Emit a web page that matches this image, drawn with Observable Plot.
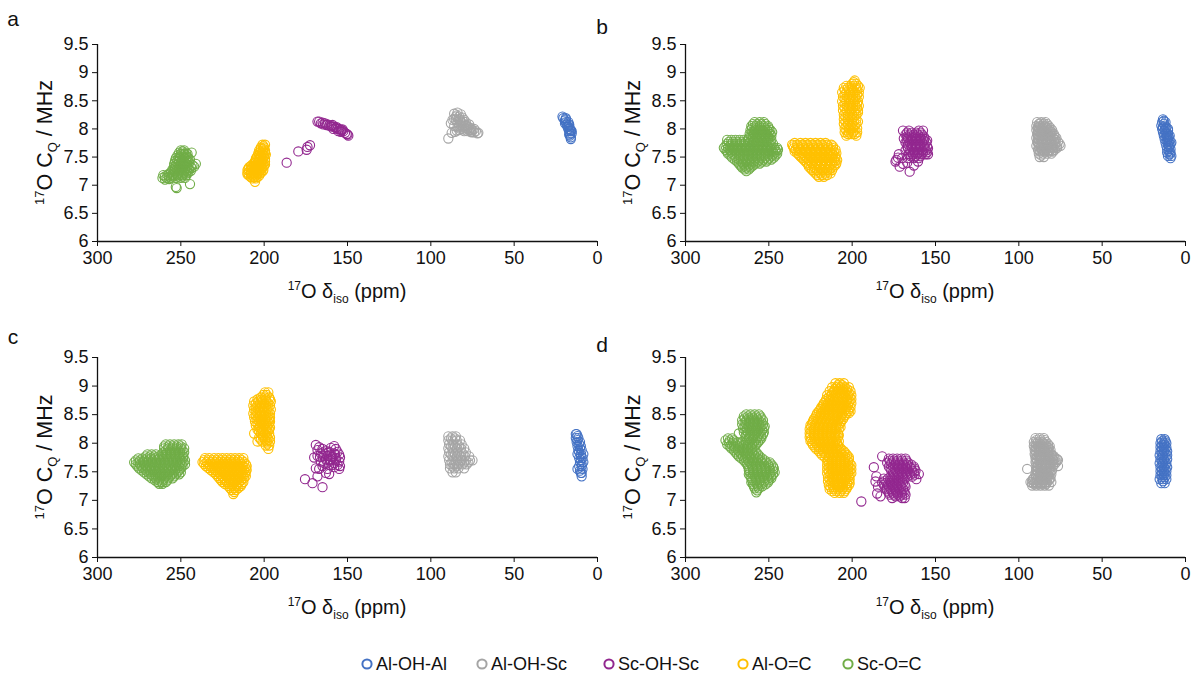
<!DOCTYPE html>
<html>
<head>
<meta charset="utf-8">
<script src="https://cdn.jsdelivr.net/npm/d3@7"></script>
<script src="https://cdn.jsdelivr.net/npm/@observablehq/plot@0.6"></script>
<style>
  html, body { margin: 0; padding: 0; background: #fff; }
  body { width: 1193px; height: 674px; position: relative; overflow: hidden; font-family: "Liberation Sans", Arial, sans-serif; }
  .panel { position: absolute; }
  .panel svg { overflow: visible; background: transparent; }
  #legend { position: absolute; top: 652px; left: 0; width: 1193px; height: 24px; }
  .li { position: absolute; top: 0; height: 24px; display: flex; align-items: center; font-size: 18px; color: #111; white-space: nowrap; }
  .li svg { margin-right: 3px; }
</style>
</head>
<body>
<div id="root"></div>
<div id="legend"></div>
<script>
// ---------------- shared definitions ----------------
const series = ["Al-OH-Al", "Al-OH-Sc", "Sc-OH-Sc", "Al-O=C", "Sc-O=C"];
const colors = ["#4472C4", "#A5A5A5", "#92278F", "#FFC000", "#70AD47"];
const xTicks = [300, 250, 200, 150, 100, 50, 0];
const yTicks = [6, 6.5, 7, 7.5, 8, 8.5, 9, 9.5];
const panelLabels = ["a", "b", "c", "d"];

// Data rows: [CQ (MHz), δiso (ppm) of each point read at that CQ, ...]
// ---------------- panel a ----------------
const aAlOHAl = [[8.22,21],[8.19,20.5,19],[8.15,19.5],[8.12,19,17.5],[8.08,18.5,17],[8.04,18,17.5],[8.0,17.5,16.5],[7.96,17,16,15.5],[7.92,16.5,15.5],[7.88,16.5],[7.85,16],[7.82,16],
  [8.17,19],[8.1,19.5],[8.06,17],[7.98,16],[7.9,17]];
const aAlOHSc = [[8.29,84],[8.27,86],[8.26,82],[8.22,85,83],[8.2,81],[8.16,87,85,82.5,80],[8.12,84,79],[8.1,81,88],[8.08,77],[8.05,86,83,80,78],[8.02,79,76],[8.0,82,78,74],[7.98,83,77,75],[7.96,80,73],[7.95,76,85.5],[7.94,74],[7.93,87.5,71.5],[7.92,72],[7.97,84.5],[7.83,89.5],
  [8.24,84.5],[8.18,83.5,86],[8.13,82,80.5],[8.07,82,79],[8.03,81,77.5,84],[7.99,80,76],[7.96,78],[7.94,75.5]];
const aScOHSc = [[8.13,168,167],[8.1,166,163.5],[8.08,164.5,162],[8.06,161,160],[8.04,159.5,158],[8.02,157],[8.0,156,155,158.5],[7.98,154,153.5],[7.96,152.5,155.5],[7.93,151.5],[7.9,150],[7.88,149.5],[7.71,172.5],[7.68,174],[7.63,174.5],[7.6,179.5],[7.4,186.5],
  [8.11,165],[8.07,162.5,159],[8.03,156.5],[7.99,153],[7.95,154],[7.91,150.5]];
const aAlOC = [[7.72,201,199.5],[7.67,202,200],[7.62,203,201,199.5],[7.57,203.5,201.5,199.5],[7.52,204,202,200],[7.47,205,203,201,199.5],[7.42,205.5,203.5,201.5,199.5],[7.37,207,205,203,201,199.5],[7.32,209,207,205,203,201],[7.27,210,208,206,204,202,200.5],[7.22,210,208,206,204,202],[7.17,209,207,205,203],[7.12,207,205],[7.06,205.5],
  [7.695,200.5],[7.645,202,200.5],[7.595,202.5,200.5],[7.545,203,201,199],[7.495,204.5,202.5,200.5],[7.445,205,203,201],[7.395,206,204,202,200.5],[7.345,208,206,204,202,200],[7.295,209.5,207.5,205.5,203.5,201.5],[7.245,209,207,205,203,201],[7.195,210,208,206,204],[7.145,208,206,204]];
const aScOC = [[7.62,250,248],[7.58,251,247,243.5],[7.53,252,249.5,247],[7.48,253,250.5,248,245.5],[7.43,253.5,251,248.5,246],[7.38,254,251.5,249,246.5,241],[7.33,254,251.5,249,246.5,244,242],[7.28,255,252.5,250,247.5,245],[7.23,256,253.5,251,248,245.5],[7.18,258,255,252,249,246.5,260.5],[7.13,261,258.5,256,253,250,247.5],[7.1,259.5],[7.02,244.5],[6.97,253],[6.95,252.5],
  [7.6,249],[7.555,250,248,246],[7.505,251,248.5,246],[7.455,252,249.5,247,244.5],[7.405,252.5,250,247.5,245],[7.355,253,250.5,248,245.5,243],[7.305,253.5,251,248.5,246,243.5],[7.255,254,251.5,249,246.5,244],[7.205,257,254.5,252,249.5,247],[7.155,259.5,257,254.5,251.5,249],[7.11,257]];

// ---------------- panel b ----------------
const bAlOHAl = [[8.17,13.5],[8.12,14,12],[8.06,14.5,12.5],[8.0,14,12,10.5],[7.94,13.5,11.5],[7.88,13,11,9.5],[7.82,12.5,10.5],[7.76,12,10,8.5],[7.7,11.5,9.5],[7.64,11,9],[7.58,11,9],[7.52,10.5,8.5],[7.48,9],
  [8.145,13],[8.09,13],[8.03,13.5,11.5],[7.97,12.5,10.5],[7.91,12,10.5],[7.85,11.5,10],[7.79,11,9.5],[7.73,10.5,9],[7.67,10],[7.61,10],[7.55,9.5]];
const bAlOHSc = [[8.12,89,86.5,84],[8.05,89.5,87,84.5,82],[7.98,89.5,87,84.5,82,80],[7.91,89,86.5,84,81.5,79],[7.84,89.5,87,84.5,82,79.5,77.5],[7.77,89,86.5,84,81.5,79,76.5],[7.7,89.5,87,84.5,82,79.5,77,75],[7.63,88.5,86,83.5,81,78.5],[7.56,88,85.5,83,80.5],[7.5,87.5,85],
  [8.085,88,85.5,83],[8.015,88,85.5,83,81],[7.945,88,85.5,83,80.5],[7.875,88,85.5,83,80.5,78.5],[7.805,88,85.5,83,80.5,78],[7.735,88,85.5,83,80.5,78,75.5],[7.665,87,84.5,82,79.5,77],[7.595,87,84.5,82,79.5],[7.53,86.5],
  [8.1,87.5,85],[8.03,88.5,86,83.5],[7.96,88.5,86,83.5,81],[7.89,88.5,86,83.5,81],[7.82,88.5,86,83.5,81,78.5],[7.75,88.5,86,83.5,81,78.5],[7.68,88,85.5,83,80.5,78],[7.61,87.5,85,82.5,80]];
const bScOHSc = [[7.97,169.5,166,160,157.5],[7.9,168,165.5,163,160.5,158],[7.83,169,166.5,164,161.5,159,156.5],[7.76,168,165.5,163,160.5,158,155.5],[7.69,167,164.5,162,159.5,157,155],[7.62,168,165.5,163,160.5,158,155.5],[7.55,166,163.5,161,158.5,156,154.5,172],[7.48,170,166.5,163,160],[7.45,173.5],[7.49,172.5],[7.42,174,160.5],[7.33,171.5],[7.38,169.5],[7.4,167],[7.24,165.5],[7.35,163],
  [7.935,167,164,161.5,159],[7.865,167,164.5,162,159.5,157],[7.795,167,164.5,162,159.5,157,155],[7.725,166.5,164,161.5,159,156.5],[7.655,166.5,164,161.5,159,156.5,154.5],[7.585,165,162.5,160,157.5,155],[7.515,165,162,159]];
const bAlOC = [
  [8.86,198.5],[8.8,200,197.5],[8.73,205,202.5,200,197.5,195.5],[8.65,206,203.5,201,198.5,196],[8.57,205.5,203,200.5,198,196],
  [8.49,206,203.5,201,198.5,196.5],[8.41,205.5,203,200.5,198,196],[8.33,205.5,203,200.5,198,196.5],[8.25,205,202.5,200,197.5],
  [8.17,205,202.5,200,197.5],[8.09,205,202.5,200,197.5],[8.01,204.5,202,199.5,197],[7.94,204.5,202,199.5,197],[7.88,203.5,197.5],
  [8.83,199],[8.765,203.5,201,198.5,196.5],[8.69,204.5,202,199.5,197],[8.61,204.5,202,199.5,197],[8.53,204.5,202,199.5,197.5],
  [8.45,204.5,202,199.5,197],[8.37,204.5,202,199.5,197],[8.29,204,201.5,199,196.5],[8.21,204,201.5,199],[8.13,204,201.5,199,196.5],
  [8.05,203.5,201,198.5],[7.975,203.5,201,198.5],[7.91,202.5,200.5,198.5],
  [7.75,234.5,231,228,225,222,219,216],[7.69,235.5,232.5,229.5,226.5,223.5,220.5,217.5,214.5,211.5],
  [7.63,234,231,228,225,222,219,216,213,210],[7.57,233,230,227,224,221,218,215,212,209.5],
  [7.51,231,228,225,222,219,216,213,210],[7.45,229,226,223,220,217,214,211,209],
  [7.39,227,224,221,218,215,212,209.5],[7.33,226,223,220,217,214,211],[7.27,224,221,218,215,212],
  [7.21,222,219,216,213],[7.15,220,217],
  [7.72,236,233,230,227,224,221,218,215,212.5],[7.66,235,232.5,229.5,226.5,223.5,220.5,217.5,214.5,211.5],
  [7.6,234.5,231.5,228.5,225.5,222.5,219.5,216.5,213.5,211],[7.54,232,229,226,223,220,217,214,211.5],
  [7.48,230,227,224,221,218,215,212,210],[7.42,228,225,222,219,216,213,210.5],[7.36,226,222,219,216,213,210],
  [7.3,225,222,219,216,213],[7.24,223,220,217,214],[7.18,221,218,215]];
const bScOC = [
  [8.12,258.5,255.5,253],[8.05,260.5,258,255.5,253,250.5],[7.98,261,258.5,256,253.5,251,249],[7.91,261.5,259,256.5,254,251.5,249],
  [7.84,262,259.5,257,254.5,252,249.5],[7.77,274,271.5,269,266.5,264,261.5,259,256.5,254,251.5,249],
  [7.7,276,273.5,271,268.5,266,263.5,261,258.5,256,253.5,251,248.5],
  [7.63,276,273.5,271,268.5,266,263.5,261,258.5,256,253.5,251,248.5,246,244.5],
  [7.56,274.5,272,269.5,267,264.5,262,259.5,257,254.5,252,249.5,247,245],
  [7.49,272,269.5,267,264.5,262,259.5,257,254.5,252,249.5,247],
  [7.42,269,266.5,264,261.5,259,256.5,254,251.5],[7.35,267,264.5,262,259.5],[7.28,264.5,262],
  [8.085,259.5,257,254.5,252],[8.015,260,257.5,255,252.5,250],[7.945,260,257.5,255,252.5,250,248],[7.875,260.5,258,255.5,253,250.5,248.5],
  [7.805,275,272.5,270,267.5,265,262.5,260.5,258,255.5,253,250.5,248.5],[7.735,275,272.5,270,267.5,265,262.5,260,257.5,255,252.5,250,247.5],
  [7.665,277,274.5,272,269.5,267,264.5,262,259.5,257,254.5,252,249.5,247,245],[7.595,275,272.5,270,267.5,265,262.5,260,257.5,255,252.5,250,247.5,245.5],
  [7.525,273,270.5,268,265.5,263,260.5,258,255.5,253,250.5,248,246],[7.455,270.5,268,265.5,263,260.5,258,255.5,253,250.5,248.5],
  [7.385,268,265.5,263,260.5,258,255.5],[7.315,266,263.5,261],[7.25,263.5]];

// ---------------- panel c ----------------
const cAlOHAl = [[8.16,12.5,13],[8.09,13,11.5],[8.02,12.5,10.5],[7.95,12,10],[7.88,11.5,9.5],[7.81,12,10,8.5],[7.74,11,9],[7.67,10.5,8.5],[7.6,11,9.5],[7.55,12,9],[7.48,10,9.5],[7.42,9.5],
  [8.125,12],[8.055,12],[7.985,11],[7.915,10.5],[7.845,11],[7.775,10],[7.705,10],[7.635,9.5],[7.52,10.5]];
const cAlOHSc = [[8.12,89.5,87,85],[8.05,89.5,87,84.5,82.5],[7.98,89,86.5,84,81.5],[7.91,89.5,87,84.5,82,80],[7.84,89,86.5,84,81.5,79],[7.77,89.5,87,84.5,82,79.5,77],[7.7,89,86.5,84,81.5,79,76.5,75],[7.63,88.5,86,83.5,81,78.5],[7.56,88.5,86,83.5,80],[7.49,87,85],
  [8.085,88,85.5],[7.945,88,85.5,83],[7.805,88,85.5,83,80.5],[7.665,87.5,85,82.5,80,77.5],[7.595,87,84.5]];
const cScOHSc = [[7.97,169],[7.95,158],[7.93,167],[7.92,160],[7.9,165,157],[7.88,168],[7.87,163],[7.85,156],[7.83,162],[7.82,166,158],[7.8,160,155],[7.78,164,168,162],[7.76,159],[7.75,170,154.5],[7.73,157],[7.72,163],[7.7,160],[7.68,166,155],[7.65,158,164],[7.62,161,159,156],[7.6,154.5,165],[7.58,158],[7.56,169],[7.55,155,162,167],[7.48,163],[7.46,161],[7.42,168],[7.37,175.5],[7.3,171],[7.23,165],
  [7.85,161],[7.76,166.5],[7.72,160.5],[7.7,157],[7.66,162],[7.84,164.5],[7.8,157.5]];
const cAlOC = [
  [8.89,199.5,197.5],[8.8,202,199.5,197],[8.73,206,203.5,201,198.5,196],[8.66,206.5,204,201.5,199,196.5],[8.59,206,203.5,201,198.5,196],
  [8.52,206.5,204,201.5,199,196.5],[8.45,206,203.5,201,198.5,196.5],[8.38,205.5,203,200.5,198,196.5],[8.31,205,202.5,200,198],
  [8.24,204,201.5,199,197],[8.17,206,202,199.5,197],[8.1,203,200.5,198,196.5],[8.03,204,201,198.5,196.5],[7.96,199,197],[7.9,197.5],
  [8.845,200.5,198.5],[8.765,204,201.5,199,196.5],[8.695,205,202.5,200,197.5],[8.625,205,202.5,200,197.5],[8.555,205,202.5,200,197.5],
  [8.485,205,202.5,200,197.5],[8.415,204.5,202,199.5,197],[8.345,204,201.5,199,197],[8.275,203,200.5,198,196.5],[8.205,203,200.5,198],
  [8.135,201,198.5],[8.065,202,199.5,197.5],[7.995,198],
  [7.74,235.5,233,230,227.5,225,222.5,220,217.5,215,212.5],[7.67,237,234.5,232,229.5,227,224.5,222,219.5,217,214.5,212],
  [7.6,235,232.5,230,227.5,225,222.5,220,217.5,215,212.5,210.5],[7.53,232,229.5,227,224.5,222,219.5,217,214.5,212,210.5],
  [7.46,229,226.5,224,221.5,219,216.5,214,211.5],[7.39,227,224.5,222,219.5,217,214.5,212],[7.32,225,222.5,220,217.5,215,212.5],
  [7.25,221.5,219,216.5,214],[7.18,219.5,217],[7.11,218.5],
  [7.705,236,233.5,231,228.5,226,223.5,221,218.5,216,213.5],[7.635,236,233.5,231,228.5,226,223.5,221,218.5,216,213.5,211],
  [7.565,233.5,231,228.5,226,223.5,221,218.5,216,213.5,211],[7.495,230.5,228,225.5,223,220.5,218,215.5,213,211],
  [7.425,228,225.5,223,220.5,218,215.5,213,211],[7.355,226,223.5,221,218.5,216,213.5],[7.285,223.5,221,218.5,216,213.5],
  [7.215,220.5,218,215.5],[7.145,218]];
const cScOC = [
  [7.98,259,256.5,254,251.5,249.5],[7.91,260,257.5,255,252.5,250,248],[7.84,260.5,258,255.5,253,250.5,248],
  [7.77,271,268.5,266,263.5,261,258.5,256,253.5,251,248.5],[7.7,277,274.5,272,269.5,267,264.5,262,259.5,257,254.5,252,249.5,247.5],
  [7.63,277,274.5,272,269.5,267,264.5,262,259.5,257,254.5,252,249.5,247.5],[7.56,275,272.5,270,267.5,265,262.5,260,257.5,255,252.5,250],
  [7.49,272,269.5,267,264.5,262,259.5,257,254.5,252,250],[7.42,269,266.5,264,261.5,259,256.5,254],[7.35,265.5,263,260.5,258],[7.29,263,261],
  [7.945,260,257.5,255,252.5,250],[7.875,259,256.5,254,251.5,249],[7.805,270,267.5,265,261.5,259,256.5,254,251.5,249],
  [7.735,275.5,273,270.5,268,265.5,263,260.5,258,255.5,253,250.5,248.5],[7.665,278,275.5,273,270.5,268,265.5,263,260.5,258,255.5,253,250.5,248.5],
  [7.595,276,273.5,271,268.5,266,263.5,261,258.5,256,253.5,251,249],[7.525,273.5,271,268.5,266,263.5,261,258.5,256,253.5,251],
  [7.455,270.5,268,265.5,263,260.5,258,255.5,253,251],[7.385,267.5,265,262.5,260,257.5,255],[7.32,264,261.5,259]];

// ---------------- panel d ----------------
const dAlOHAl = [[8.07,14.5,12.5],[8.0,15,13,11.5],[7.93,15,13,11.5],[7.86,15,13,11],[7.79,15.5,13.5,11],[7.72,15,13,11],[7.65,15.5,13.5,11.5],[7.58,15,13,11],[7.51,15,13,11.5],[7.44,15,13,11.5],[7.37,15.5,13.5,11.5],[7.3,14.5,12.5],
  [8.035,14,12],[7.965,14,12.5],[7.895,14,12],[7.825,14,12],[7.755,14,12],[7.685,14,12.5],[7.615,14,12],[7.545,14,12],[7.475,14,12.5],[7.405,14,12.5],[7.335,13.5]];
const dAlOHSc = [[8.09,90,87.5,85],[8.02,91,88.5,86,83.5],[7.95,91,88.5,86,83.5,81.5],[7.88,90.5,88,85.5,83,81],[7.81,90.5,88,85.5,83,80.5],[7.74,90,87.5,85,82.5,80,78],[7.67,90,87.5,85,82.5,80,77.5],[7.6,89.5,87,84.5,82,79.5,76.5],[7.55,95],[7.53,89.5,87,84.5,82,80],[7.46,90,87.5,85,82.5,80.5],[7.39,91,88.5,86,83.5,81],[7.32,93,90.5,88,85.5,83,80.5],[7.26,92,89.5,87,84.5,82],
  [8.055,89.5,87,84.5],[7.985,89.5,87,84.5,82.5],[7.915,89.5,87,84.5,82],[7.845,89.5,87,84.5,82],[7.775,89,86.5,84,81.5,79],[7.705,89,86.5,84,81.5,79,76.5],[7.635,88.5,86,83.5,81,78.5],[7.565,88.5,86,83.5,81],[7.495,88.5,86,83.5,81],[7.425,89.5,87,84.5,82],[7.355,92,89.5,87,84.5,82],[7.29,91,88.5,86,83.5],
  [8.0,90,87.5,85],[7.93,90,87.5,85,82.5],[7.86,90,87.5,85,82.5],[7.79,90,87.5,85,82.5,80],[7.72,89.5,87,84.5,82,79.5,77],[7.65,89.5,87,84.5,82,79.5],[7.58,89,86.5,84,81.5],[7.51,89,86.5,84,81.5],[7.44,90,87.5,85,82.5],[7.37,91.5,89,86.5,84,81.5],[7.3,92,89.5,87,84.5]];
const dScOHSc = [[7.77,182],[7.73,178,175.5,173,170.5,168],[7.66,179,176.5,174,171.5,169,166.5],[7.59,178,175.5,173,170.5,168,165.5,163],[7.58,187],[7.52,176.5,174,171.5,169,166.5,164,162],[7.45,175,172.5,170,167.5,165,162.5],[7.46,160],[7.42,185.5],[7.37,161.5],[7.38,181,178.5,176,173.5,171,168.5],[7.33,186],[7.31,182,179.5,177,174.5,172,169.5],[7.24,184.5,180.5,178,175.5,173,170.5,168],[7.17,179,176.5,174,171.5,169],[7.12,185],[7.1,177.5,175,172.5,170,168],[7.07,183],[7.04,176,170,168.5],[6.98,194.5],
  [7.695,177.5,175,172.5,170,167.5],[7.625,177,174.5,172,169.5,167,164.5],[7.555,177,174.5,172,169.5,167,164.5,162.5],[7.485,175.5,173,170.5,168,165.5,163],[7.415,177,174.5,172,169.5,167,164],
  [7.345,180,177.5,175,172.5,170],[7.275,181,178.5,176,173.5,171,168.5],[7.205,179.5,177,174.5,172,169.5],[7.135,178,175.5,173,170.5,168.5],[7.07,174,171.5]];
const dAlOC = [
  [9.05,210,207.5,205],[8.98,212,209.5,207,204.5,202],[8.91,213.5,211,208.5,206,203.5,201],[8.84,215,212.5,210,207.5,205,202.5,200.5],
  [8.77,215.5,213,210.5,208,205.5,203,200.5],[8.7,217,214.5,212,209.5,207,204.5,202,200.5],[8.63,218.5,216,213.5,211,208.5,206,203.5,201],
  [8.56,220,217.5,215,212.5,210,207.5,205,202.5,201],[8.49,221.5,219,216.5,214,211.5,209,206.5,204],[8.42,223,220.5,218,215.5,213,210.5,208,205.5],
  [8.35,224,221.5,219,216.5,214,211.5,209,207],[8.28,224.5,222,219.5,217,214.5,212,209.5,207],[8.21,224.5,222,219.5,217,214.5,212,209.5],
  [8.14,225,222.5,220,217.5,215,212.5,210,208],[8.07,224.5,222,219.5,217,214.5,212,209.5],[8.0,224,221.5,219,216.5,214,211.5,209],
  [7.93,222.5,220,217.5,215,212.5,210,207.5],[7.86,220,217.5,215,212.5,210,207.5,205],[7.79,218,215.5,213,210.5,208,205.5,203],
  [7.72,214.5,212,209.5,207,204.5,202],[7.65,214,211.5,209,206.5,204,201.5],[7.58,214,211.5,209,206.5,204,201.5],
  [7.51,214,211.5,209,206.5,204,201.5],[7.44,213.5,211,208.5,206,203.5,201.5],[7.37,213.5,211,208.5,206,203.5,201.5],
  [7.3,213,210.5,208,205.5,203,201.5],[7.23,213,210.5,208,205.5,203],[7.16,212,209.5,207,204.5],
  [9.015,208.5,206],[8.945,210.5,208,205.5,203],[8.875,212,209.5,207,204.5,202],[8.805,214,211.5,209,206.5,204,201.5],
  [8.735,216,213.5,211,208.5,206,203.5,201.5],[8.665,217.5,215,212.5,210,207.5,205,202.5],[8.595,219,216.5,214,211.5,209,206.5,204,202],
  [8.525,221,218.5,216,213.5,211,208.5,206,203.5,202],[8.455,222,219.5,217,214.5,212,209.5,207,205],[8.385,223.5,221,218.5,216,213.5,211,208.5,206.5],
  [8.315,225,222.5,220,217.5,215,212.5,210,208],[8.245,225.5,223,220.5,218,215.5,213,210.5,208],[8.175,225.5,223,220.5,218,215.5,213,210.5,208.5],
  [8.105,225.5,223,220.5,218,215.5,213,210.5,208.5],[8.035,225,222.5,220,217.5,215,212.5,210,208],[7.965,223.5,221,218.5,216,213.5,211,208.5],
  [7.895,221.5,219,216.5,214,211.5,209,206.5],[7.825,219,216.5,214,211.5,209,206.5,204],[7.755,216.5,214,211.5,209,206.5,204,202],
  [7.685,215,212.5,210,207.5,205,202.5],[7.615,215,212.5,210,207.5,205,202.5,200.5],[7.545,215,212.5,210,207.5,205,202.5,200.5],
  [7.475,215,212.5,210,207.5,205,202.5,200.5],[7.405,214.5,212,209.5,207,204.5,202],[7.335,214.5,212,209.5,207,204.5,202],
  [7.265,214,211.5,209,206.5,204,202],[7.195,213.5,211,208.5,206,203.5],[7.13,210.5,207.5,205]];
const dScOC = [
  [8.47,265,262.5,260,257.5,255],[8.4,266,263.5,261,258.5,256,253.5],[8.33,266,263.5,261,258.5,256,253.5],
  [8.26,265.5,263,260.5,258,255.5,253],[8.19,265,262.5,260,257.5,255,253],[8.17,268],[8.12,264,261.5,259,256.5,254.5],
  [8.05,276,273.5,271,263,260.5,258,255.5],[7.98,275,272.5,270,267.5,265,262.5,260,257.5],[7.91,272.5,270,267.5,265,262.5,260],
  [7.84,270,267.5,265,262.5,260,257.5],[7.77,268,265.5,263,260.5,258,255.5],[7.7,265,262.5,260,257.5,255,252.5],
  [7.63,263,260.5,258,255.5,253,250.5,248.5],[7.56,262,259.5,257,254.5,252,249.5,247],[7.49,261.5,259,256.5,254,251.5,249,246.5],
  [7.42,261,258.5,256,253.5,251,248.5],[7.35,260,257.5,255,252.5,250],[7.28,259.5,257,254.5,252],[7.21,258.5,256],[7.14,257.5],
  [8.505,263.5,261,258.5,256],[8.435,264.5,262,259.5,257,254.5],[8.365,264.5,262,259.5,257,254.5],[8.295,264.5,262,259.5,257,254.5,252.5],
  [8.225,264,261.5,259,256.5,254],[8.155,263.5,261,258.5,256,253.5],[8.085,274.5,272,262,259.5,257,254.5],
  [8.015,274,271.5,269,266.5,264,261.5,259,256.5],[7.945,273.5,271,268.5,266,263.5,261,258.5],[7.875,271,268.5,266,263.5,261,258.5],
  [7.805,269,266.5,264,261.5,259,256.5],[7.735,266.5,264,261.5,259,256.5,254],[7.665,264,261.5,259,256.5,254,251.5,249.5],
  [7.595,262.5,260,257.5,255,252.5,250,247.5],[7.525,262,259.5,257,254.5,252,249.5,247.5],[7.455,262,259.5,257,254.5,252,249.5,247.5],
  [7.385,260.5,258,255.5,253,250.5,248.5],[7.315,260.5,258,255.5,253,250.5],[7.245,259,256.5,254],[7.175,257]];

const panelData = [
  [aAlOHAl, aAlOHSc, aScOHSc, aAlOC, aScOC],
  [bAlOHAl, bAlOHSc, bScOHSc, bAlOC, bScOC],
  [cAlOHAl, cAlOHSc, cScOHSc, cAlOC, cScOC],
  [dAlOHAl, dAlOHSc, dScOHSc, dAlOC, dScOC]
];

// ---------------- layout (not data) ----------------
const W = 600, H = 310;
const layout = [
  {left: 0,   top: 0,   mt: 44, lx: 13,  ly: 26},
  {left: 588, top: 0,   mt: 44, lx: 602, ly: 34},
  {left: 0,   top: 316, mt: 41, lx: 13,  ly: 28},
  {left: 588, top: 316, mt: 41, lx: 602, ly: 36}
];

function expand(rows, s) {
  const out = [];
  for (const [y, ...xs] of rows) for (const x of xs) out.push({x, y, s});
  return out;
}

const root = document.getElementById("root");
panelData.forEach((groups, i) => {
  const L = layout[i];
  const pts = groups.flatMap((rows, k) => expand(rows, series[k]));
  const mb = 69;
  const chart = Plot.plot({
    width: W, height: H,
    marginLeft: 97, marginRight: 3, marginTop: L.mt, marginBottom: mb,
    style: {fontFamily: "'Liberation Sans', Arial, sans-serif", fontSize: "18px", color: "#111", background: "transparent", overflow: "visible"},
    x: {domain: [300, 0]},
    y: {domain: [6, 9.5]},
    color: {domain: series, range: colors},
    marks: [
      Plot.axisX({ticks: xTicks, tickSize: 5, tickPadding: 5, tickFormat: d => String(d), label: null, stroke: "#111", fontSize: 18}),
      Plot.axisY({ticks: yTicks, tickSize: 5, tickPadding: 4, tickFormat: d => String(d), label: null, stroke: "#111", fontSize: 18}),
      Plot.ruleX([300], {stroke: "#111", strokeWidth: 1.3}),
      Plot.ruleY([6], {stroke: "#111", strokeWidth: 1.3}),
      Plot.dot(pts, {x: "x", y: "y", stroke: "s", fill: "none", r: 4.6, strokeWidth: 1.1})
    ]
  });
  const div = document.createElement("div");
  div.className = "panel";
  div.style.left = L.left + "px";
  div.style.top = L.top + "px";
  div.appendChild(chart);
  root.appendChild(div);

  const svg = d3.select(chart);
  const plotTop = L.mt, plotBottom = H - mb;
  // x title: 17O δiso (ppm)
  const xt = svg.append("text")
    .attr("x", (97 + (W - 3)) / 2).attr("y", 298)
    .attr("text-anchor", "middle").attr("fill", "#111")
    .style("font-size", "20px");
  xt.append("tspan").attr("dy", -8).style("font-size", "12px").text("17");
  xt.append("tspan").attr("dy", 8).text("O δ");
  xt.append("tspan").attr("dy", 5).style("font-size", "12px").text("iso");
  xt.append("tspan").attr("dy", -5).text(" (ppm)");
  // y title: 17O CQ / MHz
  const cy = (plotTop + plotBottom) / 2;
  const yt = svg.append("text")
    .attr("transform", `translate(52,${cy}) rotate(-90)`)
    .attr("text-anchor", "middle").attr("fill", "#111")
    .style("font-size", "21.5px");
  yt.append("tspan").attr("dy", -8).style("font-size", "13px").text("17");
  yt.append("tspan").attr("dy", 8).text("O C");
  yt.append("tspan").attr("dy", 5).style("font-size", "13px").text("Q");
  yt.append("tspan").attr("dy", -5).text(" / MHz");
  // panel letter
  svg.append("text").attr("x", L.lx - L.left).attr("y", L.ly)
    .attr("fill", "#111").style("font-size", "21px").text(panelLabels[i]);
});

// ---------------- legend ----------------
const legendX = [361, 476, 603, 737, 842];
const legend = document.getElementById("legend");
series.forEach((name, k) => {
  const item = document.createElement("div");
  item.className = "li";
  item.style.left = legendX[k] + "px";
  item.innerHTML = `<svg width="12" height="12"><circle cx="6" cy="6" r="4.6" fill="none" stroke="${colors[k]}" stroke-width="2"/></svg><span></span>`;
  item.querySelector("span").textContent = name;
  legend.appendChild(item);
});
</script>
</body>
</html>
